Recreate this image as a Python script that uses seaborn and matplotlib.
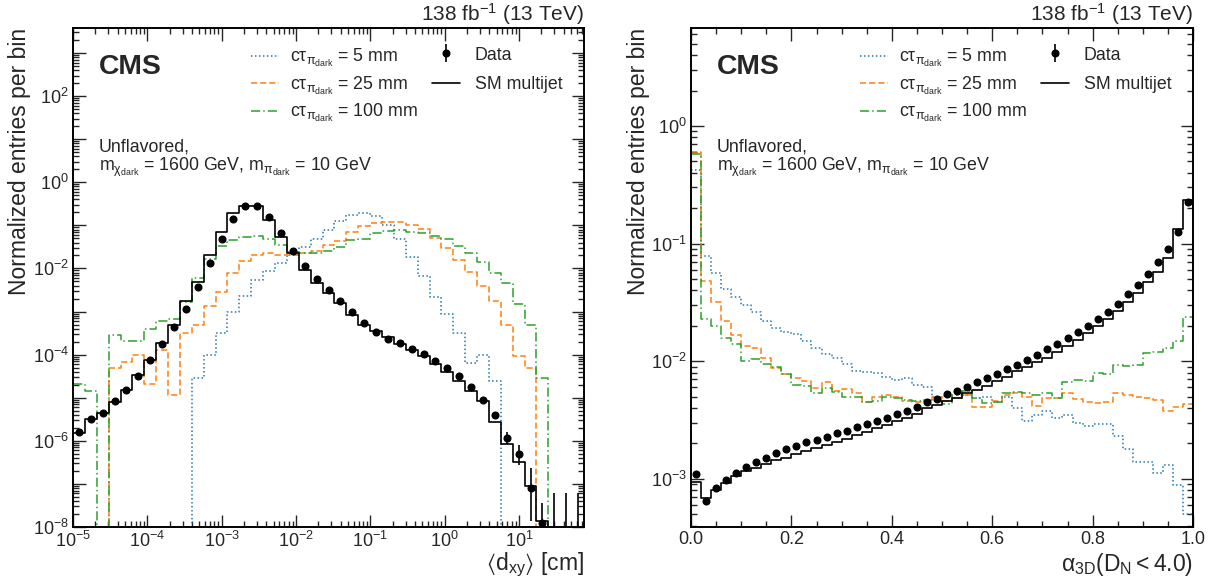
import numpy as np
import pandas as pd
import seaborn as sns
import matplotlib.pyplot as plt
from matplotlib.lines import Line2D
from matplotlib.ticker import (LogLocator, MultipleLocator, FuncFormatter,
                               NullFormatter, LogFormatterMathtext)

# ---- binning ----
dxy_edges = np.logspace(-5, np.log10(75), 44)      # 43 log bins
alpha_edges = np.linspace(0.0, 1.0, 51)              # 50 bins

# ---- left panel: <d_xy> ----
dxy_data = [1.6e-6, 3.2e-6, 4.4e-6, 8.3e-6, 1.5e-5, 3.2e-5, 7.6e-5, 1.8e-4, 4.3e-4, 1.15e-3,
            3.7e-3, 1.35e-2, 4.8e-2, 0.14, 0.275, 0.275, 0.155, 6.6e-2, 2.6e-2, 1.15e-2,
            5.6e-3, 3.2e-3, 1.8e-3, 9.8e-4, 5.4e-4, 3.4e-4, 2.3e-4, 1.86e-4, 1.35e-4, 1.02e-4,
            7.1e-5, 5.0e-5, 3.2e-5, 1.8e-5, 8.9e-6, 4.0e-6, 1.15e-6, 5.0e-7, 7.9e-8, 1.26e-8,
            0, 0, 0]
dxy_err_lo = [0] * 35 + [0.4e-6, 0.3e-6, 2.25e-7, 6.5e-8, 1.26e-8, 0, 0, 0]
dxy_err_hi = [0] * 35 + [0.5e-6, 0.43e-6, 2.9e-7, 1.55e-7, 2.4e-8, 6e-8, 6e-8, 6e-8]
dxy_sm = [1.5e-6, 3.2e-6, 4.4e-6, 7.9e-6, 1.5e-5, 3.4e-5, 7.6e-5, 1.86e-4, 4.8e-4, 1.8e-3,
          4.9e-3, 2.0e-2, 7.1e-2, 0.19, 0.28, 0.28, 0.135, 5.4e-2, 2.3e-2, 9.1e-3,
          4.7e-3, 2.7e-3, 1.55e-3, 8.5e-4, 5.0e-4, 3.6e-4, 2.5e-4, 1.74e-4, 1.29e-4, 9.1e-5,
          6.0e-5, 4.0e-5, 2.5e-5, 1.45e-5, 8.5e-6, 2.8e-6, 8.5e-7, 3.2e-7, 8.9e-8, 1.4e-8,
          0, 0, 0]
dxy_5mm = [0, 0, 0, 0, 0, 0, 0, 0, 0, 0,
           2.8e-5, 1.0e-4, 3.2e-4, 1.0e-3, 2.3e-3, 5.4e-3, 8.5e-3, 1.35e-2, 2.1e-2, 3.1e-2,
           4.9e-2, 7.8e-2, 0.123, 0.178, 0.19, 0.162, 0.102, 4.9e-2, 1.8e-2, 6.8e-3,
           2.2e-3, 8.9e-4, 3.2e-4, 6.3e-5, 1.0e-4, 2.5e-5, 0, 0, 0, 0,
           0, 0, 0]
dxy_25mm = [0, 0, 0, 4.8e-5, 6.9e-5, 1.0e-4, 2.1e-5, 1.26e-4, 1.15e-5, 3.2e-4,
            5.0e-4, 1.35e-3, 2.8e-3, 7.8e-3, 1.48e-2, 2.1e-2, 2.3e-2, 2.1e-2, 2.1e-2, 2.3e-2,
            2.6e-2, 3.5e-2, 4.3e-2, 7.1e-2, 9.8e-2, 0.112, 0.12, 0.12, 0.1, 8.3e-2,
            5.2e-2, 3.0e-2, 1.6e-2, 8.3e-3, 4.0e-3, 1.8e-3, 5.0e-4, 9.3e-5, 4.8e-5, 0,
            0, 0, 0]
dxy_100mm = [2.1e-5, 1.45e-5, 0, 2.8e-4, 2.1e-4, 2.1e-4, 4.0e-4, 6.0e-4, 6.6e-4, 1.66e-3,
             6.0e-3, 1.62e-2, 3.4e-2, 4.5e-2, 5.4e-2, 5.6e-2, 4.8e-2, 3.5e-2, 2.45e-2, 2.3e-2,
             2.3e-2, 2.6e-2, 3.1e-2, 4.5e-2, 4.9e-2, 6.5e-2, 7.4e-2, 7.6e-2, 7.1e-2, 6.5e-2,
             5.6e-2, 4.8e-2, 3.4e-2, 2.3e-2, 1.4e-2, 7.8e-3, 4.7e-3, 1.5e-3, 5.0e-4, 2.8e-5,
             0, 0, 0]

# ---- right panel: alpha_3D ----
alpha_data = [1.10e-3, 6.5e-4, 8.3e-4, 9.8e-4, 1.12e-3, 1.26e-3, 1.38e-3, 1.51e-3, 1.66e-3, 1.78e-3,
              1.91e-3, 2.04e-3, 2.14e-3, 2.29e-3, 2.45e-3, 2.57e-3, 2.75e-3, 2.95e-3, 3.09e-3, 3.31e-3,
              3.55e-3, 3.80e-3, 4.07e-3, 4.47e-3, 4.79e-3, 5.25e-3, 5.62e-3, 6.03e-3, 6.61e-3, 7.24e-3,
              7.76e-3, 8.51e-3, 9.33e-3, 1.02e-2, 1.12e-2, 1.26e-2, 1.41e-2, 1.58e-2, 1.78e-2, 2.00e-2,
              2.29e-2, 2.63e-2, 3.09e-2, 3.72e-2, 4.47e-2, 5.50e-2, 6.92e-2, 8.91e-2, 0.126, 0.224]
alpha_sm = [9.5e-4, 6.9e-4, 8.1e-4, 9.3e-4, 1.05e-3, 1.17e-3, 1.23e-3, 1.35e-3, 1.45e-3, 1.51e-3,
            1.62e-3, 1.74e-3, 1.82e-3, 1.95e-3, 2.04e-3, 2.19e-3, 2.34e-3, 2.51e-3, 2.69e-3, 2.88e-3,
            3.09e-3, 3.31e-3, 3.55e-3, 3.98e-3, 4.27e-3, 4.57e-3, 4.90e-3, 5.37e-3, 5.75e-3, 6.17e-3,
            6.76e-3, 7.41e-3, 8.32e-3, 8.91e-3, 9.77e-3, 1.07e-2, 1.20e-2, 1.35e-2, 1.51e-2, 1.74e-2,
            2.00e-2, 2.29e-2, 2.69e-2, 3.16e-2, 3.80e-2, 4.68e-2, 5.75e-2, 7.59e-2, 0.132, 0.234]
alpha_5mm = [0.42, 7.9e-2, 5.6e-2, 4.1e-2, 3.5e-2, 3.0e-2, 2.6e-2, 2.2e-2, 1.9e-2, 1.78e-2,
             1.7e-2, 1.48e-2, 1.29e-2, 1.15e-2, 1.07e-2, 9.5e-3, 8.3e-3, 8.1e-3, 7.9e-3, 7.4e-3,
             6.9e-3, 7.2e-3, 6.3e-3, 6.0e-3, 5.0e-3, 5.1e-3, 4.9e-3, 5.2e-3, 4.9e-3, 5.0e-3,
             4.5e-3, 5.0e-3, 4.0e-3, 3.1e-3, 3.5e-3, 3.8e-3, 3.3e-3, 3.5e-3, 3.0e-3, 2.8e-3,
             2.9e-3, 2.9e-3, 2.3e-3, 1.8e-3, 1.4e-3, 1.4e-3, 1.12e-3, 1.32e-3, 8.9e-4, 5.0e-4]
alpha_25mm = [0.60, 4.8e-2, 3.2e-2, 2.2e-2, 1.66e-2, 1.35e-2, 1.29e-2, 1.07e-2, 8.7e-3, 7.8e-3,
              7.2e-3, 6.8e-3, 5.9e-3, 6.6e-3, 5.6e-3, 5.8e-3, 5.4e-3, 4.5e-3, 5.0e-3, 5.2e-3,
              5.0e-3, 4.6e-3, 4.5e-3, 4.6e-3, 5.0e-3, 4.6e-3, 4.9e-3, 5.2e-3, 4.1e-3, 4.1e-3,
              4.6e-3, 5.2e-3, 5.4e-3, 5.0e-3, 4.2e-3, 4.9e-3, 4.9e-3, 5.4e-3, 4.8e-3, 4.5e-3,
              4.4e-3, 4.5e-3, 5.4e-3, 5.2e-3, 5.0e-3, 4.9e-3, 4.7e-3, 3.8e-3, 4.1e-3, 4.3e-3]
alpha_100mm = [0.58, 2.3e-2, 2.0e-2, 1.58e-2, 1.41e-2, 1.0e-2, 1.05e-2, 9.5e-3, 8.9e-3, 7.8e-3,
               6.3e-3, 6.2e-3, 5.4e-3, 5.9e-3, 5.5e-3, 5.0e-3, 5.0e-3, 4.5e-3, 4.6e-3, 5.0e-3,
               4.9e-3, 4.7e-3, 4.6e-3, 4.7e-3, 4.6e-3, 4.3e-3, 5.2e-3, 5.6e-3, 4.9e-3, 4.4e-3,
               4.5e-3, 5.4e-3, 5.5e-3, 5.4e-3, 5.2e-3, 5.4e-3, 4.9e-3, 6.6e-3, 6.9e-3, 6.8e-3,
               7.9e-3, 7.8e-3, 9.3e-3, 9.1e-3, 9.3e-3, 1.17e-2, 1.2e-2, 1.29e-2, 1.48e-2, 2.4e-2]

sig_labels = [r"c$\tau_{\pi_{dark}}$ = 5 mm", r"c$\tau_{\pi_{dark}}$ = 25 mm",
              r"c$\tau_{\pi_{dark}}$ = 100 mm"]
sig_colors = ["#1f77b4", "#ff7f0e", "#2ca02c"]
sig_styles = [(0, (1, 1.6)), (0, (4, 2)), (0, (6, 2, 1, 2))]

sns.set_style("ticks")
plt.rcParams["font.family"] = ["Liberation Sans", "DejaVu Sans"]
plt.rcParams["mathtext.fontset"] = "custom"
plt.rcParams["mathtext.rm"] = "Liberation Sans"
plt.rcParams["mathtext.it"] = "Liberation Sans"
plt.rcParams["mathtext.bf"] = "Liberation Sans:bold"
plt.rcParams["mathtext.default"] = "regular"


def draw_step(ax, edges, values, **kw):
    df = pd.DataFrame({"x": edges, "y": list(values) + [0.0]})
    sns.lineplot(data=df, x="x", y="y", ax=ax, drawstyle="steps-post",
                 estimator=None, sort=False, legend=False, **kw)


def even_decades(v, pos):
    e = int(round(np.log10(v)))
    return r"$10^{%d}$" % e if e % 2 == 0 else ""


fig = plt.figure(figsize=(12.17, 5.78), dpi=100)
ax1 = fig.add_axes([73 / 1217, 51 / 578, 511 / 1217, 499 / 578])
ax2 = fig.add_axes([691 / 1217, 51 / 578, 502 / 1217, 499 / 578])

panels = [
    (ax1, dxy_edges, [dxy_5mm, dxy_25mm, dxy_100mm], dxy_sm, dxy_data,
     [dxy_err_lo, dxy_err_hi]),
    (ax2, alpha_edges, [alpha_5mm, alpha_25mm, alpha_100mm], alpha_sm, alpha_data, None),
]

for ax, edges, sigs, sm, data, err in panels:
    if ax is ax1:
        ax.set_xscale("log")
    ax.set_yscale("log")
    for vals, c, ls in zip(sigs, sig_colors, sig_styles):
        draw_step(ax, edges, vals, color=c, linestyle=ls, linewidth=1.1)
    draw_step(ax, edges, sm, color="black", linewidth=1.2)
    if ax is ax1:
        centers = np.sqrt(edges[:-1] * edges[1:])
    else:
        centers = 0.5 * (edges[:-1] + edges[1:])
    ax.errorbar(centers, data, yerr=err, fmt="o", color="black", ms=4.8,
                elinewidth=1.2, capsize=0, zorder=5)

    sig_h = [Line2D([], [], color=c, ls=ls, lw=1.1) for c, ls in zip(sig_colors, sig_styles)]
    data_h = ax.errorbar([], [], yerr=[], fmt="o", color="black", ms=4.8, elinewidth=1.2)
    sm_h = Line2D([], [], color="black", lw=1.2)
    w = ax.get_position().width * 1217
    leg1 = ax.legend(sig_h, sig_labels, loc="center left",
                     bbox_to_anchor=(1 - 333 / w, 1 - (85.5 - 28) / 499),
                     frameon=False, fontsize=12.8, handlelength=1.55, handletextpad=0.65,
                     labelspacing=0.31, borderpad=0, borderaxespad=0)
    ax.add_artist(leg1)
    ax.legend([data_h, sm_h], ["Data", "SM multijet"], loc="center left",
              bbox_to_anchor=(1 - 152 / w, 1 - (70 - 28) / 499),
              frameon=False, fontsize=12.8, handlelength=1.55, handletextpad=0.85,
              labelspacing=0.73, borderpad=0, borderaxespad=0)

    xt = 26 / w
    ax.text(xt, 1 - (73.5 - 28) / 499, "CMS", transform=ax.transAxes, fontsize=20.4,
            fontweight="bold", va="baseline", ha="left")
    ax.text(xt, 1 - (151 - 28) / 499, "Unflavored,", transform=ax.transAxes,
            fontsize=12.8, va="baseline", ha="left")
    ax.text(xt, 1 - (171 - 28) / 499,
            r"m$_{\chi_{dark}}$ = 1600 GeV, m$_{\pi_{dark}}$ = 10 GeV",
            transform=ax.transAxes, fontsize=12.8, va="baseline", ha="left")
    ax.text(1.0, 1 + (28 - 21) / 499, r"138 fb$^{-1}$ (13 TeV)", transform=ax.transAxes,
            fontsize=15, va="baseline", ha="right")

    ax.set_ylabel("Normalized entries per bin", fontsize=16.5, loc="top")
    ax.yaxis.set_label_coords(-0.082, 1.0)

    ax.tick_params(which="both", direction="in", top=True, right=True,
                   labelsize=13, width=1.0, pad=3)
    ax.tick_params(which="major", length=9)
    ax.tick_params(which="minor", length=4.5)
    for s in ax.spines.values():
        s.set_linewidth(1.4)
        s.set_color("black")

# left axes
ax1.set_xlim(1e-5, 75)
ax1.set_ylim(1e-8, 3.8e3)
ax1.xaxis.set_major_locator(LogLocator(base=10, numticks=20))
ax1.xaxis.set_minor_locator(LogLocator(base=10, subs=np.arange(2, 10), numticks=20))
ax1.xaxis.set_major_formatter(LogFormatterMathtext())
ax1.xaxis.set_minor_formatter(NullFormatter())
ax1.yaxis.set_major_locator(LogLocator(base=10, numticks=30))
ax1.yaxis.set_minor_locator(LogLocator(base=10, subs=np.arange(2, 10), numticks=30))
ax1.yaxis.set_major_formatter(FuncFormatter(even_decades))
ax1.yaxis.set_minor_formatter(NullFormatter())
ax1.set_xlabel(r"$\langle d_{xy}\rangle$ [cm]", fontsize=16.5, loc="right")
ax1.xaxis.set_label_coords(1.0, -0.048)

# right axes
ax2.set_xlim(0, 1)
ax2.set_ylim(3.9e-4, 6.8)
ax2.xaxis.set_major_locator(MultipleLocator(0.2))
ax2.xaxis.set_minor_locator(MultipleLocator(0.05))
ax2.xaxis.set_major_formatter(FuncFormatter(lambda v, p: "%.1f" % v))
ax2.yaxis.set_major_locator(LogLocator(base=10, numticks=20))
ax2.yaxis.set_minor_locator(LogLocator(base=10, subs=np.arange(2, 10), numticks=20))
ax2.yaxis.set_major_formatter(LogFormatterMathtext())
ax2.yaxis.set_minor_formatter(NullFormatter())
ax2.set_xlabel(r"$\alpha_{3D}(D_N < 4.0)$", fontsize=16.5, loc="right")
ax2.xaxis.set_label_coords(1.0, -0.048)

fig.savefig("out.png", dpi=100)
